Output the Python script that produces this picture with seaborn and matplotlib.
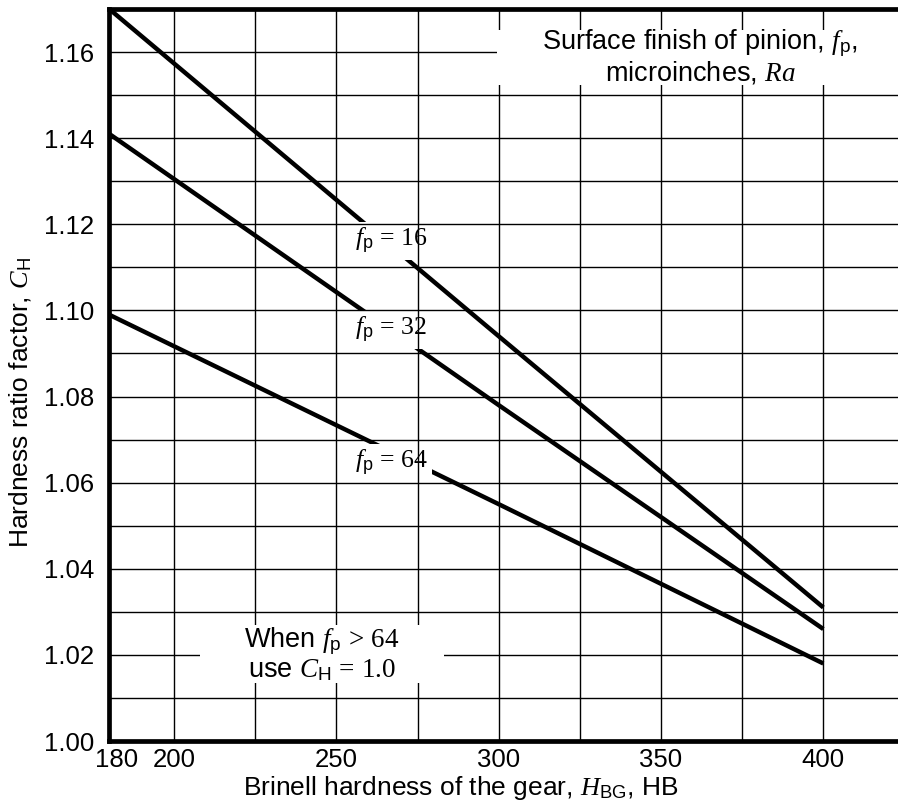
import matplotlib
matplotlib.use("Agg")
import matplotlib.pyplot as plt
import matplotlib.transforms as mtransforms
from matplotlib.patches import Rectangle
import pandas as pd
import seaborn as sns

# ---- data ----
hardness = [180, 300, 400]
ch_fp16 = [1.170, 1.094, 1.031]
ch_fp32 = [1.141, 1.078, 1.026]
ch_fp64 = [1.099, 1.055, 1.018]
series_names = ["16", "32", "64"]

x_major = [180, 200, 250, 300, 350, 400]
x_minor = [225, 275, 325, 375]
y_major = [1.00, 1.02, 1.04, 1.06, 1.08, 1.10, 1.12, 1.14, 1.16]
y_minor = [1.01, 1.03, 1.05, 1.07, 1.09, 1.11, 1.13, 1.15]

label_x = [267, 267, 267]
label_y = [1.1161, 1.0954, 1.0645]

sns.set_theme(style="white")
plt.rcParams["font.family"] = ["Liberation Sans", "DejaVu Sans"]
plt.rcParams["mathtext.fontset"] = "custom"
plt.rcParams["mathtext.rm"] = "Liberation Serif"
plt.rcParams["mathtext.it"] = "Liberation Serif:italic"
plt.rcParams["mathtext.sf"] = "Liberation Sans"
plt.rcParams["mathtext.bf"] = "Liberation Serif:bold"

rows = []
for name, vals in zip(series_names, [ch_fp16, ch_fp32, ch_fp64]):
    for h, c in zip(hardness, vals):
        rows.append({"HBG": h, "CH": c, "fp": name})
df = pd.DataFrame(rows)

fig = plt.figure(figsize=(8.98, 8.01), dpi=100)
ax = fig.add_axes([0.1216, 0.0749, 0.8784, 0.9139])

sns.lineplot(data=df, x="HBG", y="CH", hue="fp", palette=["black"] * 3,
             linewidth=3.2, legend=False, errorbar=None, ax=ax, zorder=2,
             solid_capstyle="butt")

ax.set_xlim(180, 423)
ax.set_ylim(1.0, 1.17)
ax.set_xticks(x_major)
ax.set_xticks(x_minor, minor=True)
ax.set_yticks(y_major)
ax.set_yticks(y_minor, minor=True)
ax.set_xticklabels([str(v) for v in x_major])
ax.set_yticklabels([f"{v:.2f}" for v in y_major])

ax.grid(which="both", color="black", linewidth=1.0)
ax.set_axisbelow(False)
ax.tick_params(which="both", length=0)
ax.tick_params(axis="x", pad=5, labelsize=18.5, colors="black")
ax.tick_params(axis="y", pad=11, labelsize=18.5, colors="black")

for side in ["left", "bottom", "top"]:
    ax.spines[side].set_visible(True)
    ax.spines[side].set_linewidth(3.4)
    ax.spines[side].set_color("black")
ax.spines["right"].set_visible(False)

# shift the "180" label a bit to the right as in the original
lab0 = ax.get_xticklabels()[0]
lab0.set_transform(lab0.get_transform() +
                   mtransforms.ScaledTranslation(7 / 100, 0, fig.dpi_scale_trans))

ax.set_xlabel(r"Brinell hardness of the gear, $H_{\mathsf{BG}}$, HB",
              fontsize=19, color="black")
ax.set_ylabel(r"Hardness ratio factor, $C_{\mathsf{H}}$", fontsize=19, color="black")
ax.xaxis.label.set_va("center")
ax.yaxis.label.set_va("center")
ax.xaxis.set_label_coords(0.445, -0.064)
ax.yaxis.set_label_coords(-0.112, 0.462)

# curve labels (white box hides the curve, grid stays on top)
for name, lx, ly in zip(series_names, label_x, label_y):
    ax.text(lx, ly, r"$f_{\mathsf{p}}\,=\," + name + "$", ha="center", va="center",
            fontsize=18.5, color="black", zorder=2.2,
            bbox=dict(facecolor="white", edgecolor="none", pad=3))

# annotation boxes (cover grid)
ax.add_patch(Rectangle((208, 1.0135), 75, 0.0135, facecolor="white",
                       edgecolor="none", zorder=3))
ax.text(245.5, 1.0202, "When $f_{\\mathsf{p}}\\,>\\,64$\nuse $C_{\\mathsf{H}}\\,=\\,1.0$",
        ha="center", va="center", fontsize=19.5, color="black", zorder=4,
        linespacing=1.0)

ax.add_patch(Rectangle((299.4, 1.1523), 130, 0.0128, facecolor="white",
                       edgecolor="none", zorder=3, clip_on=True))
ax.text(362, 1.1589, "Surface finish of pinion, $f_{\\mathsf{p}}$,\nmicroinches, $Ra$",
        ha="center", va="center", fontsize=19.5, color="black", zorder=4,
        linespacing=1.0)

fig.savefig("out.png", dpi=100)
